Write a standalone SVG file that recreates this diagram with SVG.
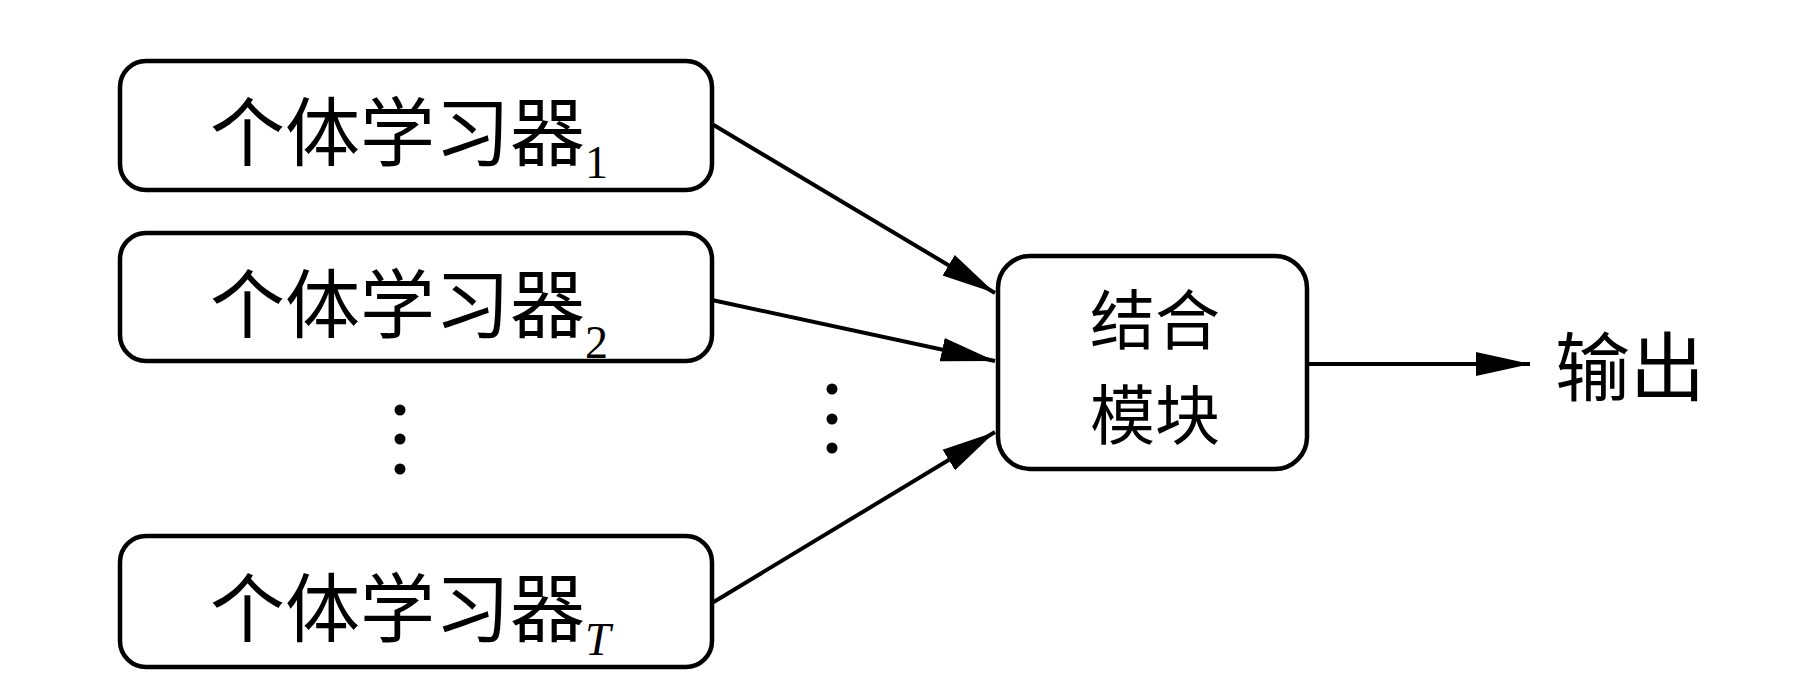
<svg xmlns="http://www.w3.org/2000/svg" width="1801" height="698" viewBox="0 0 1801 698">
<style>
.box{fill:#fff;stroke:#000;stroke-width:4.5}
.cjk{font-family:"Noto Sans CJK SC","Liberation Serif",sans-serif;font-size:75px;fill:#000}
.cjk2{font-family:"Noto Sans CJK SC","Liberation Serif",sans-serif;font-size:65px;fill:#000}
.sub{font-family:"Liberation Serif",serif;font-size:46px}
.edge{stroke:#000;stroke-width:4;fill:none;marker-end:url(#ah)}
.dot{fill:#000}
</style>
<defs>
<marker id="ah" markerUnits="userSpaceOnUse" markerWidth="56" markerHeight="26" refX="54" refY="12" orient="auto" viewBox="0 0 56 24">
<path d="M0,0 L54,12 L0,24 z" fill="#000"/>
</marker>
</defs>
<rect width="1801" height="698" fill="#fff"/>
<g id="learner1">
<rect class="box" x="120" y="61" width="592" height="129" rx="26"/>
<text class="cjk" x="210" y="160">个体学习器<tspan class="sub" dy="18">1</tspan></text>
</g>
<g id="learner2">
<rect class="box" x="120" y="233" width="592" height="128" rx="26"/>
<text class="cjk" x="210" y="332">个体学习器<tspan class="sub" dy="26">2</tspan></text>
</g>
<g id="learnerT">
<rect class="box" x="120" y="536" width="592" height="131" rx="26"/>
<text class="cjk" x="210" y="636">个体学习器<tspan class="sub" font-style="italic" dy="19">T</tspan></text>
</g>
<g id="combiner">
<rect class="box" x="998" y="256" width="309" height="213" rx="32"/>
<text class="cjk2" x="1155" y="344" text-anchor="middle">结合</text>
<text class="cjk2" x="1155" y="439" text-anchor="middle">模块</text>
</g>
<g id="output">
<text class="cjk" x="1555" y="395">输出</text>
</g>
<g id="ellipsis">
<circle class="dot" cx="400" cy="410" r="5.5"/>
<circle class="dot" cx="400" cy="439" r="5.5"/>
<circle class="dot" cx="400" cy="469" r="5.5"/>
<circle class="dot" cx="832" cy="389" r="5.5"/>
<circle class="dot" cx="832" cy="419" r="5.5"/>
<circle class="dot" cx="832" cy="448" r="5.5"/>
</g>
<g id="connectors">
<line class="edge" x1="712" y1="124" x2="995" y2="293"/>
<line class="edge" x1="712" y1="300" x2="995" y2="361"/>
<line class="edge" x1="712" y1="603" x2="995" y2="432"/>
<line class="edge" x1="1307" y1="364" x2="1530" y2="364"/>
</g>
</svg>
